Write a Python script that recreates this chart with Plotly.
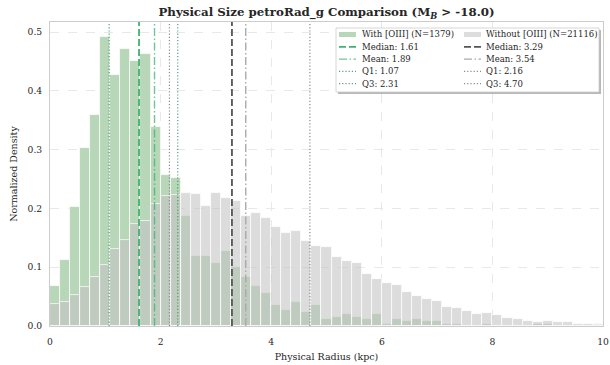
import numpy as np
import plotly.graph_objects as go

# ---- histogram binning (kpc) ----
BIN_LO, BIN_HI, N_BINS = 0.0, 10.0, 55

# normalized density per bin, galaxies with [OIII] emission
with_density = [
    0.068, 0.112, 0.203, 0.303, 0.359, 0.491, 0.427, 0.471, 0.451, 0.463,
    0.339, 0.256, 0.252, 0.187, 0.119, 0.119, 0.107, 0.128, 0.100, 0.084,
    0.068, 0.056, 0.036, 0.028, 0.040, 0.024, 0.036, 0.012, 0.016, 0.020,
    0.016, 0.012, 0.020, 0.004, 0.012, 0.008, 0.012, 0.008, 0.008, 0.004,
    0.004, 0.000, 0.000, 0.004, 0.000, 0.000, 0.000, 0.000, 0.004, 0.004,
    0.000, 0.000, 0.000, 0.000, 0.004,
]

# normalized density per bin, galaxies without [OIII] emission
without_density = [
    0.037, 0.040, 0.052, 0.066, 0.083, 0.103, 0.131, 0.147, 0.173, 0.178,
    0.208, 0.221, 0.222, 0.227, 0.225, 0.204, 0.226, 0.217, 0.212, 0.187,
    0.193, 0.183, 0.169, 0.158, 0.162, 0.145, 0.136, 0.134, 0.117, 0.111,
    0.107, 0.088, 0.080, 0.073, 0.070, 0.058, 0.051, 0.046, 0.043, 0.032,
    0.030, 0.026, 0.021, 0.022, 0.018, 0.013, 0.012, 0.009, 0.006, 0.008,
    0.006, 0.007, 0.003, 0.003, 0.002,
]

with_n = 1379
without_n = 21116

stat_names = ["Median", "Mean", "Q1", "Q3"]
with_stats = [1.61, 1.89, 1.07, 2.31]
without_stats = [3.29, 3.54, 2.16, 4.70]

# ---- styling ----
FONT = "DejaVu Serif"
TEXT = "#262626"
GREEN_FILL = "rgb(184,214,184)"
GRAY_FILL = "rgba(194,194,194,0.58)"
GRAY_SWATCH = "rgb(221,221,221)"

with_line_styles = {
    "Median": dict(color="#3cb371", width=1.8, dash="7px,3px"),
    "Mean": dict(color="rgba(60,179,113,0.75)", width=1.4, dash="8px,2.5px,1.5px,2.5px"),
    "Q1": dict(color="rgba(46,139,87,0.8)", width=1.2, dash="1.2px,2px"),
    "Q3": dict(color="rgba(46,139,87,0.8)", width=1.2, dash="1.2px,2px"),
}
without_line_styles = {
    "Median": dict(color="#555555", width=1.8, dash="7px,3px"),
    "Mean": dict(color="#aaaaaa", width=1.4, dash="8px,2.5px,1.5px,2.5px"),
    "Q1": dict(color="#8c8c8c", width=1.2, dash="1.2px,2px"),
    "Q3": dict(color="#8c8c8c", width=1.2, dash="1.2px,2px"),
}

W, H = 610, 365
M_L, M_R, M_T, M_B = 50, 7, 22, 39
PLOT_W = W - M_L - M_R
PLOT_H = H - M_T - M_B

edges = np.linspace(BIN_LO, BIN_HI, N_BINS + 1)
centers = 0.5 * (edges[:-1] + edges[1:])
bin_w = edges[1] - edges[0]

fig = go.Figure()
fig.add_bar(
    x=centers, y=with_density, width=bin_w,
    marker=dict(color=GREEN_FILL, line=dict(color="rgba(255,255,255,0.9)", width=0.8)),
    showlegend=False, hoverinfo="skip",
)
fig.add_bar(
    x=centers, y=without_density, width=bin_w,
    marker=dict(color=GRAY_FILL, line=dict(color="rgba(255,255,255,0.9)", width=0.8)),
    showlegend=False, hoverinfo="skip",
)

shapes = []
# vertical statistic markers spanning the full plot height
for stats, styles in ((with_stats, with_line_styles), (without_stats, without_line_styles)):
    for name, val in zip(stat_names, stats):
        shapes.append(dict(
            type="line", xref="x", yref="y domain", x0=val, x1=val, y0=0, y1=1,
            line=styles[name], layer="above",
        ))


def px_x(px):
    return (px - M_L) / PLOT_W


def px_y(py):
    return (H - M_B - py) / PLOT_H


# ---- legend box (two columns) ----
box = (336, 28, 599, 92)
shapes.append(dict(type="rect", xref="paper", yref="paper",
                   x0=px_x(box[0] + 2), x1=px_x(box[2] + 2),
                   y0=px_y(box[1] + 2), y1=px_y(box[3] + 2),
                   fillcolor="rgba(0,0,0,0.28)", line=dict(width=0), layer="above"))
shapes.append(dict(type="rect", xref="paper", yref="paper",
                   x0=px_x(box[0]), x1=px_x(box[2]),
                   y0=px_y(box[1]), y1=px_y(box[3]),
                   fillcolor="white", line=dict(color="#cccccc", width=0.8), layer="above"))

annotations = []
row0, row_step = 34.5, 12.3
columns = [
    (339, 360, f"With [OIII] (N={with_n})", GREEN_FILL, with_stats, with_line_styles),
    (464, 484, f"Without [OIII] (N={without_n})", GRAY_SWATCH, without_stats, without_line_styles),
]
for sw_x, tx_x, label, fill, stats, styles in columns:
    rows = [(label, None)] + [(f"{n}: {v:.2f}", styles[n]) for n, v in zip(stat_names, stats)]
    for i, (text, style) in enumerate(rows):
        yc = row0 + i * row_step
        if style is None:
            shapes.append(dict(type="rect", xref="paper", yref="paper",
                               x0=px_x(sw_x), x1=px_x(sw_x + 17),
                               y0=px_y(yc - 2.5), y1=px_y(yc + 2.5),
                               fillcolor=fill, line=dict(width=0), layer="above"))
        else:
            shapes.append(dict(type="line", xref="paper", yref="paper",
                               x0=px_x(sw_x), x1=px_x(sw_x + 17),
                               y0=px_y(yc), y1=px_y(yc),
                               line=style, layer="above"))
        annotations.append(dict(xref="paper", yref="paper", x=px_x(tx_x), y=px_y(yc),
                                xanchor="left", yanchor="middle", showarrow=False,
                                text=text, font=dict(family=FONT, size=8.5, color=TEXT)))

axis_common = dict(
    showgrid=True, gridcolor="#e8e8e8", griddash="dash", gridwidth=0.8,
    showline=True, linecolor="#cccccc", linewidth=1, mirror=True,
    ticks="outside", tickcolor="rgba(0,0,0,0)",
    zeroline=False, automargin=False,
    tickfont=dict(family=FONT, size=9.2, color=TEXT),
)

fig.update_layout(
    width=W, height=H,
    margin=dict(l=M_L, r=M_R, t=M_T, b=M_B),
    barmode="overlay", bargap=0,
    paper_bgcolor="white", plot_bgcolor="white",
    title=dict(text="<b>Physical Size petroRad_g Comparison (M<sub><i>B</i></sub> > -18.0)</b>",
               x=0.5, xref="paper", y=1 - 12 / H, yanchor="middle",
               font=dict(family=FONT, size=11.8, color=TEXT)),
    xaxis=dict(range=[BIN_LO, BIN_HI], tickvals=[0, 2, 4, 6, 8, 10], ticklen=7,
               title=dict(text="Physical Radius (kpc)", font=dict(family=FONT, size=9.5, color=TEXT),
                          standoff=7),
               **axis_common),
    yaxis=dict(range=[0, 0.517], tickvals=[0, 0.1, 0.2, 0.3, 0.4, 0.5], tickformat=".1f",
               ticklen=5,
               title=dict(text="Normalized Density", font=dict(family=FONT, size=9.5, color=TEXT),
                          standoff=8),
               **axis_common),
    shapes=shapes, annotations=annotations,
    showlegend=False,
)

fig.write_html("out.html")
